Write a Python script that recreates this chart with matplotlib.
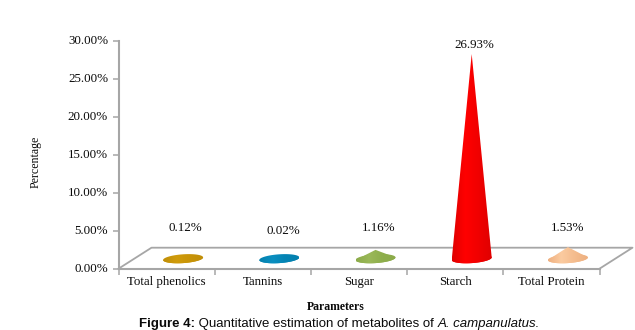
import numpy as np
import matplotlib
matplotlib.use('Agg')
import matplotlib.pyplot as plt
from matplotlib.colors import LinearSegmentedColormap
from matplotlib.patches import Polygon
from matplotlib.transforms import ScaledTranslation

W, H = 635, 330

categories = ['Total phenolics', 'Tannins', 'Sugar', 'Starch', 'Total Protein']
values = [0.12, 0.02, 1.16, 26.93, 1.53]
value_labels = ['0.12%', '0.02%', '1.16%', '26.93%', '1.53%']
y_ticks = [0, 5, 10, 15, 20, 25, 30]

# edge, middle, highlight colours of each cone
cone_colors = [
    ['#c08e08', '#d09c0c', '#c89408'],
    ['#0480ae', '#0a8fc0', '#0484b4'],
    ['#8cab4a', '#9ab858', '#8eae4c'],
    ['#e00000', '#ff0000', '#f00000'],
    ['#eeb080', '#fbcba0', '#f4bc8e'],
]

# pixel layout
AX_LEFT, AX_RIGHT = 118.5, 599.5
AX_TOP, AX_BOTTOM = 40.7, 268.7
DEPTH_X, DEPTH_Y = 33, 21
label_px = [(185, 228), (283, 231), (379, 228), (474, 45), (568, 228)]

AXIS_COLOR = '#a6a6a6'
TEXT_COLOR = '#0a0a0a'
SERIF = 'Liberation Serif'
SANS = 'Liberation Sans'

fig = plt.figure(figsize=(W / 100, H / 100), dpi=100, facecolor='white')
ax = fig.add_axes([
    AX_LEFT / W,
    1 - AX_BOTTOM / H,
    (AX_RIGHT - AX_LEFT) / W,
    (AX_BOTTOM - AX_TOP) / H,
])
ax.set_xlim(0, len(categories))
ax.set_ylim(0, 30)

px_x = len(categories) / (AX_RIGHT - AX_LEFT)
px_y = 30 / (AX_BOTTOM - AX_TOP)


def draw_gradient(clip_points, colors, x0, x1, y0, y1):
    """Заливка конуса горизонтальным градиентом"""
    cmap = LinearSegmentedColormap.from_list(
        'cone', [colors[0], colors[1], colors[2], colors[0]])
    img = ax.imshow(
        np.linspace(0, 1, 64).reshape(1, -1), cmap=cmap, aspect='auto',
        extent=[x0, x1, y0, y1], zorder=3, interpolation='bilinear')
    patch = Polygon(clip_points, closed=True, transform=ax.transData,
                    fc='none', ec='none')
    ax.add_patch(patch)
    img.set_clip_path(patch)


def draw_cone(i, value, colors):
    cx = i + 0.5 + 16.5 * px_x
    cy = 10 * px_y
    rx = 20 * px_x
    ry = 4.4 * px_y
    tilt = 1.3 * px_y

    t = np.linspace(0, 2 * np.pi, 80)
    ex = cx + rx * np.cos(t)
    ey = cy + ry * np.sin(t) + tilt * np.cos(t)
    ellipse = np.column_stack([ex, ey])

    # нижняя половина основания плюс вершина
    t_low = np.linspace(np.pi, 2 * np.pi, 40)
    low = np.column_stack([
        cx + rx * np.cos(t_low),
        cy + ry * np.sin(t_low) + tilt * np.cos(t_low),
    ])
    cone = np.vstack([low, [[cx, cy + value]]])

    x0, x1 = cx - rx, cx + rx
    y0, y1 = cy - 2 * ry, cy + value + ry
    draw_gradient(ellipse, colors, x0, x1, y0, y1)
    draw_gradient(cone, colors, x0, x1, y0, y1)


# пол псевдо-3D диаграммы
dx = DEPTH_X * px_x
dy = DEPTH_Y * px_y
n = len(categories)
ax.plot([0, dx, n + dx, n], [0, dy, dy, 0], color=AXIS_COLOR, lw=1.3,
        clip_on=False, zorder=1)

for i, (value, colors) in enumerate(zip(values, cone_colors)):
    draw_cone(i, value, colors)
ax.set_xlim(0, n)
ax.set_ylim(0, 30)

for s in ['top', 'right']:
    ax.spines[s].set_visible(False)
for s in ['left', 'bottom']:
    ax.spines[s].set_color(AXIS_COLOR)
    ax.spines[s].set_linewidth(1.5)
    ax.spines[s].set_zorder(2)

ax.set_yticks(y_ticks)
ax.set_yticklabels([f'{v:.2f}%' for v in y_ticks], family=SERIF, fontsize=9.4,
                   color=TEXT_COLOR)
ax.tick_params(axis='y', length=4, width=1.1, color=AXIS_COLOR, pad=3.5)
# подписи в оригинале чуть выше рисок
up = ScaledTranslation(0, 1 / 100, fig.dpi_scale_trans)
for label in ax.get_yticklabels():
    label.set_transform(label.get_transform() + up)

ax.set_xticks(np.arange(n + 1))
ax.set_xticklabels([])
ax.set_xticks(np.arange(n) + 0.5, minor=True)
ax.set_xticklabels(categories, minor=True, family=SERIF, fontsize=9.3,
                   color=TEXT_COLOR)
ax.tick_params(axis='x', which='major', length=4, width=1.1, color=AXIS_COLOR)
ax.tick_params(axis='x', which='minor', length=0, pad=5)

for text, (x, y) in zip(value_labels, label_px):
    fig.text(x / W, 1 - y / H, text, family=SERIF, fontsize=9.4,
             color=TEXT_COLOR, ha='center', va='center')

fig.text(36 / W, 1 - 162 / H, 'Percentage', family=SERIF, fontsize=8.6,
         rotation=90, ha='center', va='center', color=TEXT_COLOR)
fig.text(336 / W, 1 - 307 / H, 'Parameters', family=SERIF, fontsize=8.5,
         weight='bold', ha='center', va='center', color=TEXT_COLOR)

# подпись из трех кусков с разным начертанием
caption = [
    ('Figure 4:', 'bold', 'normal'),
    (' Quantitative estimation of metabolites of ', 'normal', 'normal'),
    ('A. campanulatus.', 'normal', 'italic'),
]
renderer = fig.canvas.get_renderer()
x_pos = 139
for text, weight, style in caption:
    t = fig.text(x_pos / W, 1 - 327.5 / H, text, family=SANS, fontsize=9.5,
                 weight=weight, style=style, color=TEXT_COLOR,
                 ha='left', va='baseline')
    # ширину считаем с пробелами: Agg их не отбрасывает
    width, _, _ = renderer.get_text_width_height_descent(
        text, t.get_fontproperties(), False)
    x_pos += width

fig.savefig('out.png', dpi=100, facecolor='white')
